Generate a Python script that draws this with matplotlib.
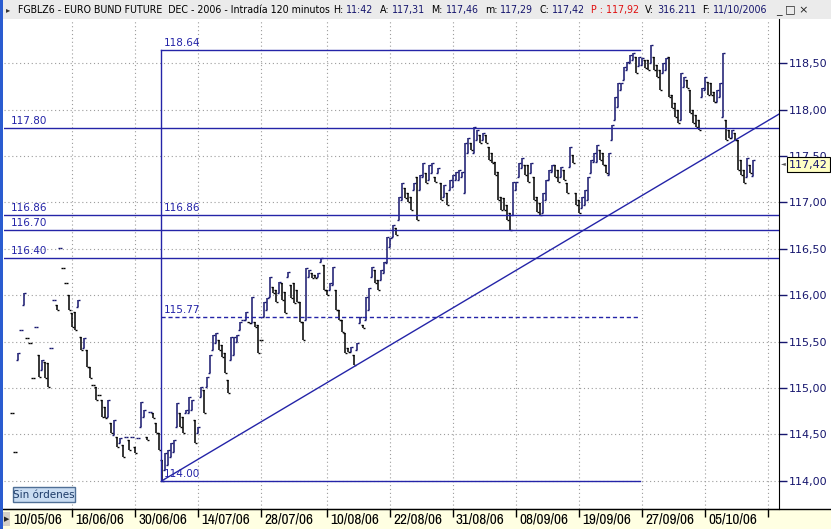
import matplotlib
matplotlib.use("Agg")
import matplotlib.pyplot as plt
from matplotlib import font_manager
from matplotlib.patches import Rectangle

W, H = 831, 529

# 120-minute bars, FGBLZ6
highs = [
    114.73, 114.31, 115.38, 115.63, 116.02, 115.54, 115.49, 115.11, 115.66, 115.36,
    115.30, 115.28, 115.27, 115.43, 115.95, 115.89, 116.51, 116.29, 116.13, 116.00,
    115.81, 115.82, 115.95, 115.55, 115.54, 115.41, 115.23, 115.03, 115.01, 114.92,
    114.87, 114.80, 114.87, 114.62, 114.65, 114.47, 114.46, 114.39, 114.47, 114.44,
    114.47, 114.36, 114.46, 114.85, 114.76, 114.47, 114.74, 114.73, 114.62, 114.51,
    114.22, 114.30, 114.33, 114.41, 114.44, 114.84, 114.73, 114.69, 114.76, 114.90,
    114.87, 114.65, 114.58, 115.01, 114.98, 115.12, 115.36, 115.57, 115.59, 115.52,
    115.46, 115.38, 115.09, 115.55, 115.55, 115.57, 115.71, 115.73, 115.82, 115.71,
    115.98, 115.71, 115.68, 115.52, 115.93, 115.97, 116.20, 116.09, 116.06, 116.14,
    116.13, 116.04, 116.25, 116.11, 116.13, 116.06, 115.93, 115.71, 116.29, 116.27,
    116.24, 116.22, 116.24, 116.40, 116.33, 116.06, 116.13, 116.30, 116.06, 115.84,
    115.73, 115.59, 115.43, 115.44, 115.36, 115.49, 115.77, 115.68, 115.98, 116.08,
    116.30, 116.27, 116.16, 116.27, 116.36, 116.63, 116.62, 116.76, 116.73, 117.06,
    117.21, 117.16, 117.10, 117.06, 117.21, 117.27, 117.30, 117.43, 117.32, 117.40,
    117.43, 117.27, 117.37, 117.21, 117.19, 117.10, 117.24, 117.30, 117.33, 117.35,
    117.33, 117.64, 117.70, 117.64, 117.81, 117.78, 117.73, 117.75, 117.73, 117.60,
    117.53, 117.44, 117.33, 117.06, 117.05, 116.97, 116.89, 117.22, 117.22, 117.43,
    117.48, 117.40, 117.40, 117.43, 117.27, 117.06, 116.99, 117.10, 117.24, 117.35,
    117.40, 117.40, 117.35, 117.38, 117.35, 117.21, 117.60, 117.51, 117.10, 117.03,
    117.06, 117.13, 117.27, 117.46, 117.53, 117.62, 117.57, 117.53, 117.40, 117.53,
    117.84, 118.14, 118.29, 118.29, 118.46, 118.51, 118.59, 118.61, 118.57, 118.57,
    118.56, 118.54, 118.54, 118.70, 118.57, 118.48, 118.43, 118.50, 118.56, 118.57,
    118.16, 118.07, 118.00, 118.40, 118.35, 118.32, 118.21, 118.00, 117.94, 117.89,
    118.23, 118.35, 118.30, 118.29, 118.19, 118.21, 118.29, 118.61, 117.89, 117.78,
    117.78, 117.75, 117.67, 117.46, 117.35, 117.48, 117.40, 117.46,
]
lows = [
    114.73, 114.31, 115.30, 115.63, 115.89, 115.54, 115.49, 115.11, 115.66, 115.12,
    115.19, 115.11, 115.01, 115.43, 115.95, 115.84, 116.51, 116.29, 116.13, 115.84,
    115.66, 115.63, 115.87, 115.41, 115.43, 115.23, 115.11, 115.03, 114.87, 114.92,
    114.69, 114.68, 114.69, 114.51, 114.49, 114.36, 114.41, 114.26, 114.47, 114.33,
    114.47, 114.30, 114.46, 114.58, 114.69, 114.44, 114.74, 114.68, 114.51, 114.33,
    114.00, 114.12, 114.17, 114.26, 114.31, 114.58, 114.58, 114.51, 114.73, 114.73,
    114.76, 114.41, 114.51, 114.90, 114.73, 115.01, 115.16, 115.41, 115.49, 115.41,
    115.33, 115.16, 114.95, 115.30, 115.36, 115.50, 115.63, 115.73, 115.73, 115.70,
    115.70, 115.66, 115.38, 115.52, 115.77, 115.84, 115.98, 116.02, 115.93, 116.02,
    115.95, 115.81, 116.20, 115.97, 115.92, 115.93, 115.71, 115.52, 115.73, 116.20,
    116.19, 116.19, 116.20, 116.36, 116.06, 116.00, 116.06, 116.11, 115.84, 115.73,
    115.60, 115.38, 115.39, 115.39, 115.25, 115.41, 115.70, 115.65, 115.73, 115.84,
    116.20, 116.13, 116.06, 116.16, 116.24, 116.35, 116.52, 116.63, 116.65, 116.81,
    117.03, 117.05, 117.01, 116.92, 117.13, 116.81, 117.13, 117.27, 117.21, 117.24,
    117.32, 117.22, 117.32, 117.03, 117.06, 116.97, 117.13, 117.17, 117.24, 117.24,
    117.27, 117.10, 117.53, 117.57, 117.53, 117.67, 117.64, 117.67, 117.64, 117.46,
    117.43, 117.30, 117.03, 116.92, 116.92, 116.81, 116.70, 116.87, 117.13, 117.27,
    117.37, 117.30, 117.22, 117.32, 117.03, 116.90, 116.87, 116.89, 117.03, 117.24,
    117.33, 117.27, 117.22, 117.27, 117.24, 117.10, 117.38, 117.43, 116.97, 116.89,
    116.94, 116.97, 117.03, 117.32, 117.44, 117.44, 117.46, 117.40, 117.32, 117.30,
    117.67, 117.89, 118.03, 118.21, 118.32, 118.43, 118.50, 118.54, 118.40, 118.47,
    118.48, 118.45, 118.43, 118.50, 118.43, 118.35, 118.21, 118.40, 118.43, 118.14,
    118.02, 117.92, 117.86, 117.89, 118.25, 118.23, 117.96, 117.86, 117.81, 117.78,
    118.14, 118.21, 118.16, 118.16, 118.08, 118.08, 118.14, 117.92, 117.67, 117.70,
    117.70, 117.67, 117.35, 117.30, 117.21, 117.27, 117.32, 117.29,
]

date_labels = ["10/05/06", "16/06/06", "30/06/06", "14/07/06", "28/07/06", "10/08/06",
               "22/08/06", "31/08/06", "08/09/06", "19/09/06", "27/09/06", "05/10/06"]
date_bars = [-0.67, 20, 41, 62, 83, 105, 126, 147, 168, 189, 210, 231]
grid_bars = [20, 41, 62, 83, 105, 126, 147, 168, 189, 210, 231, 252]

price_ticks = [114.0, 114.5, 115.0, 115.5, 116.0, 116.5, 117.0, 117.5, 118.0, 118.5]

level_lines = [117.80, 116.86, 116.70, 116.40]
box_levels = [118.64, 116.86, 115.77, 114.00]
box_top, box_bottom, box_dashed = 118.64, 114.00, 115.77
box_span = (49.5, 209.5)
trend_anchors = [(50, 114.00), (114, 115.23)]

last_time = "11:42"
last_open, last_close, prev_close = 117.31, 117.42, 117.92
volume = "316.211"
last_date = "11/10/2006"

BLUE = "#2424a8"
NAVY = "#16166e"
GRID = "#9c9c9c"


def comma(v):
    return f"{v:.2f}".replace(".", ",")


# a condensed face for the date strip, if one is around
date_font = dict(family="DejaVu Sans", fontsize=8)
for f in font_manager.fontManager.ttflist:
    if "Narrow" in f.name:
        date_font = dict(family=f.name, fontsize=11)
        break
    if f.name == "DejaVu Sans" and f.stretch == "condensed":
        date_font = dict(family="DejaVu Sans", stretch="condensed", fontsize=10)

fig = plt.figure(figsize=(W / 100, H / 100), dpi=100)
fig.patch.set_facecolor("white")

# window chrome
fig.add_artist(Rectangle((0, 1 - 19 / H), 1, 19 / H, transform=fig.transFigure,
                         fc="#ebebeb", ec="none", zorder=0))
fig.add_artist(Rectangle((0, 0), 1, 20 / H, transform=fig.transFigure,
                         fc="#ffffe2", ec="none", zorder=0))
fig.add_artist(Rectangle((0, 0), 3 / W, 1, transform=fig.transFigure,
                         fc="#2a5cd0", ec="none", zorder=5))
fig.add_artist(plt.Line2D([0, 1], [20 / H, 20 / H], transform=fig.transFigure,
                          color="black", lw=1))
fig.add_artist(Rectangle((3 / W, 3 / H), 7 / W, 14 / H, transform=fig.transFigure,
                         fc="#d4d0c8", ec="none", zorder=5))

ax = fig.add_axes([4 / W, 20 / H, 775 / W, 490 / H])
ax.set_facecolor("white")
ax.set_xlim(-2.67, 255.67)
ax.set_ylim(113.695, 118.978)

for side in ("top", "left"):
    ax.spines[side].set_visible(False)
ax.spines["right"].set_color("black")
ax.spines["bottom"].set_color("black")

# grid
for b in grid_bars:
    ax.axvline(b, color=GRID, lw=0.8, ls=(0, (1, 2.5)), zorder=1)
for p in price_ticks:
    ax.axhline(p, color=GRID, lw=0.8, ls=(0, (1, 2.5)), zorder=1)

# price bars
xs = list(range(len(highs)))
cols = []
prev_mid = None
for h, l in zip(highs, lows):
    mid = (h + l) / 2
    cols.append(NAVY if prev_mid is not None and mid >= prev_mid else "black")
    prev_mid = mid
ax.vlines(xs, lows, highs, colors=cols, lw=1.1, zorder=3)
open_ticks = [h if c == "black" else l for h, l, c in zip(highs, lows, cols)]
close_ticks = [l if c == "black" else h for h, l, c in zip(highs, lows, cols)]
ax.hlines(open_ticks, [x - 0.55 for x in xs], xs, colors=cols, lw=1.0, zorder=3)
ax.hlines(close_ticks, xs, [x + 0.55 for x in xs], colors=cols, lw=1.0, zorder=3)

# horizontal levels
for lvl in level_lines:
    ax.axhline(lvl, color=BLUE, lw=1.0, zorder=4)
    ax.annotate(f"{lvl:.2f}", (-0.67, lvl), xytext=(1, 2), textcoords="offset pixels",
                color=BLUE, fontsize=7.5, va="bottom", ha="left")

# retracement box
x0, x1 = box_span
ax.plot([x0, x0], [box_bottom, box_top], color=BLUE, lw=1.0, zorder=4)
ax.plot([x0, x1], [box_top, box_top], color=BLUE, lw=1.0, zorder=4)
ax.plot([x0, x1], [box_bottom, box_bottom], color=BLUE, lw=1.0, zorder=4)
ax.plot([x0, x1], [box_dashed, box_dashed], color=BLUE, lw=1.0, ls=(0, (3, 2)), zorder=4)
for lvl in box_levels:
    ax.annotate(f"{lvl:.2f}", (x0, lvl), xytext=(3, 2), textcoords="offset pixels",
                color=BLUE, fontsize=7.5, va="bottom", ha="left", zorder=6)

# trend line
(ta, pa), (tb, pb) = trend_anchors
slope = (pb - pa) / (tb - ta)
xr = ax.get_xlim()[1]
ax.plot([ta, xr], [pa, pa + slope * (xr - ta)], color=BLUE, lw=1.0, zorder=4)

# price axis on the right
ax.yaxis.tick_right()
ax.set_yticks(price_ticks)
ax.set_yticklabels([comma(p) for p in price_ticks])
ax.tick_params(axis="y", direction="out", length=6, width=1, color=NAVY,
               labelcolor=NAVY, labelsize=8, pad=1)

# date axis
ax.set_xticks(grid_bars)
ax.set_xticklabels([])
ax.tick_params(axis="x", direction="out", length=6, width=1, color="black")
for b, lab in zip(date_bars, date_labels):
    ax.annotate(lab, (b, 0), xycoords=("data", "axes fraction"), xytext=(3, -11),
                textcoords="offset pixels", color="black", va="center", ha="left",
                annotation_clip=False, **date_font)
fig.text(4 / W, 10 / H, "\u25b6", fontsize=5, color="#222222", va="center", ha="left",
         zorder=6)

# last-price marker
fig.canvas.draw()
y_last = ax.transData.transform((0, last_close))[1]
fig.text(789 / W, y_last / H - 1 / H, comma(last_close), fontsize=8, color=NAVY,
         va="center", ha="left", zorder=10,
         bbox=dict(boxstyle="square,pad=0.2", fc="#ffffc4", ec="black", lw=0.8))
fig.text(781 / W, y_last / H, "\u25c4", fontsize=4.5, color="#555555",
         va="center", ha="left", zorder=10)

# "Sin órdenes" button
fig.add_artist(Rectangle((13 / W, 1 - 502 / H), 62 / W, 15 / H, transform=fig.transFigure,
                         fc="#c9dcf2", ec="#4f6f96", lw=1, zorder=8))
fig.text(44 / W, 1 - 494.5 / H, "Sin órdenes", fontsize=7.5, color="#1c3a68",
         ha="center", va="center", zorder=9)

# title bar
pieces = [
    ("FGBLZ6 - EURO BUND FUTURE  DEC - 2006 - Intradía 120 minutos", "black", 0),
    ("H:", "black", 1), (last_time, NAVY, 1),
    ("A:", "black", 2), (comma(last_open), NAVY, 1),
    ("M:", "black", 2), (comma(highs[-1]), NAVY, 1),
    ("m:", "black", 2), (comma(lows[-1]), NAVY, 1),
    ("C:", "black", 2), (comma(last_close), NAVY, 1),
    ("P : " + comma(prev_close), "#e01010", 2),
    ("V:", "black", 2), (volume, NAVY, 1),
    ("F:", "black", 2), (last_date, NAVY, 1),
]
renderer = fig.canvas.get_renderer()


def lay_title(fs, draw):
    x = 18.0
    space = fs * 100 / 72 * 0.318
    made = []
    for txt, col, gap in pieces:
        x += gap * space
        t = fig.text(x / W, 1 - 10 / H, txt, fontsize=fs, color=col,
                     va="center", ha="left", zorder=10)
        x += t.get_window_extent(renderer).width
        made.append(t)
    if not draw:
        for t in made:
            t.remove()
    return x


fs = 8.0
end = lay_title(fs, False)
fs = fs * (770 - 18) / (end - 18)
lay_title(fs, True)
fig.text(6 / W, 1 - 10 / H, "\u25b8", fontsize=6, color="#333333", va="center", ha="left")
fig.text(776 / W, 1 - 10 / H, "_ \u25a1 \u00d7", fontsize=8, color="#222222",
         va="center", ha="left")

fig.savefig("out.png", dpi=100)
